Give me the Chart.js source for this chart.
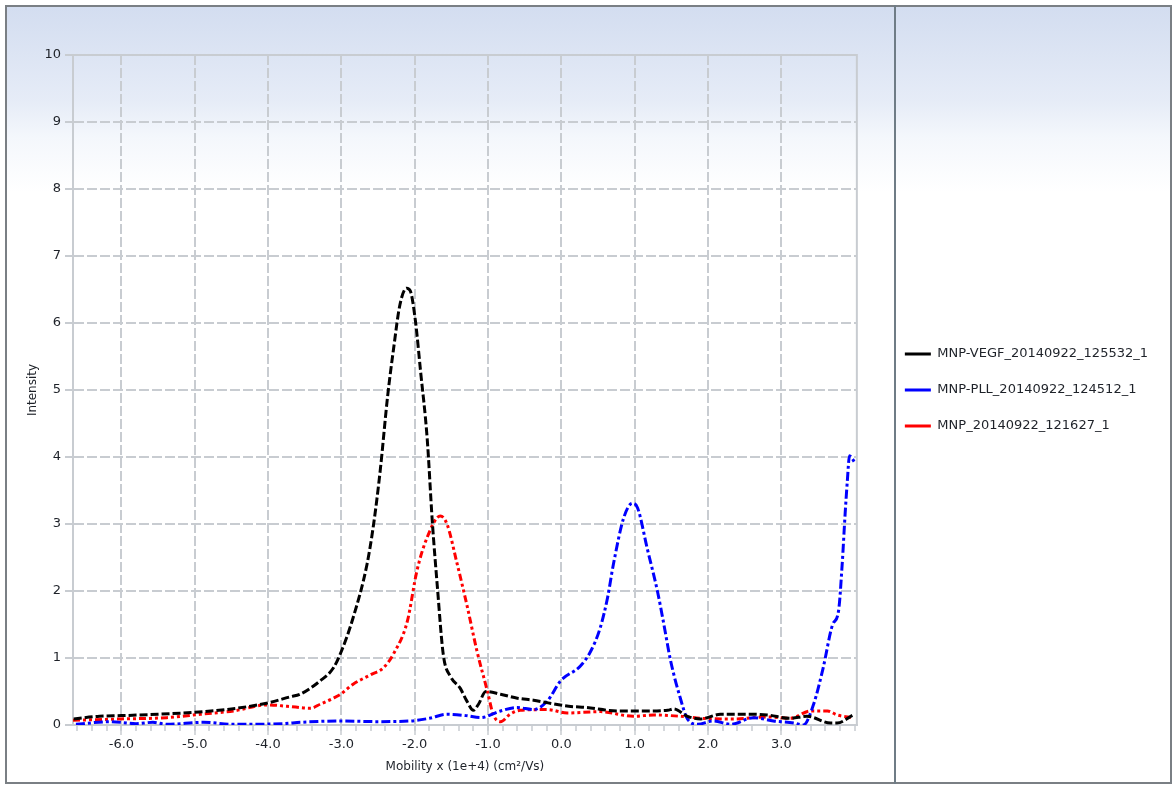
<!DOCTYPE html>
<html><head><meta charset="utf-8">
<script src="https://cdn.jsdelivr.net/npm/chart.js@4.4.1/dist/chart.umd.min.js"></script>
<style>
html,body{margin:0;padding:0;width:1173px;height:785px;overflow:hidden;background:#fff;}
#frame{position:absolute;left:5px;top:5px;width:1167px;height:779px;box-sizing:border-box;border:2px solid #7a7f84;
 background:linear-gradient(to bottom,#d3ddf0 0px,#e6ecf7 95px,#f4f7fc 130px,#ffffff 185px,#ffffff 100%);}
#divider{position:absolute;left:894px;top:5px;width:2px;height:779px;background:#6f7c86;}
#c{position:absolute;left:0;top:0;}
</style></head>
<body>
<div id="frame"></div><div id="divider"></div>
<canvas id="c" width="1173" height="785"></canvas>
<script>
const seriesLabels = ['MNP-VEGF_20140922_125532_1','MNP-PLL_20140922_124512_1','MNP_20140922_121627_1'];

const vegfX = [-6.65,-6.3,-6.0,-5.5,-5.0,-4.5,-4.0,-3.7,-3.56,-3.3,-3.11,-3.0,-2.84,-2.65,-2.56,-2.47,-2.37,-2.29,-2.2,-2.11,-2.06,-1.99,-1.92,-1.83,-1.76,-1.69,-1.61,-1.51,-1.38,-1.29,-1.2,-1.13,-1.03,-0.83,-0.6,-0.38,-0.18,0.1,0.35,0.76,1.1,1.45,1.53,1.72,1.9,2.17,2.58,2.81,3.12,3.35,3.67,3.76,3.98];
const vegfY = [0.09,0.13,0.14,0.16,0.19,0.24,0.33,0.42,0.46,0.65,0.85,1.1,1.6,2.4,3.0,3.8,4.9,5.6,6.28,6.52,6.48,6.03,5.28,4.28,3.04,2.05,1.05,0.72,0.55,0.36,0.22,0.31,0.5,0.46,0.4,0.37,0.33,0.28,0.26,0.21,0.21,0.22,0.24,0.13,0.09,0.16,0.16,0.15,0.1,0.13,0.03,0.03,0.15];

const pllX = [-6.62,-6.15,-5.8,-5.57,-5.38,-4.88,-4.47,-3.79,-3.56,-3.01,-2.5,-2.06,-1.8,-1.56,-1.3,-1.1,-0.83,-0.6,-0.38,-0.19,-0.01,0.26,0.4,0.53,0.63,0.71,0.85,0.97,1.04,1.17,1.31,1.39,1.49,1.62,1.72,1.86,2.07,2.31,2.62,2.89,3.17,3.3,3.44,3.57,3.7,3.78,3.83,3.87,3.9,3.93,3.97,4.01];
const pllY = [0.01,0.05,0.02,0.04,0.01,0.04,0.01,0.02,0.04,0.06,0.05,0.06,0.1,0.16,0.14,0.11,0.21,0.26,0.23,0.36,0.66,0.88,1.1,1.45,1.9,2.4,3.09,3.31,3.24,2.64,2.0,1.55,0.96,0.41,0.09,0.01,0.06,0.01,0.11,0.06,0.03,0.0,0.31,0.85,1.5,1.7,2.4,3.15,3.64,4.02,3.97,3.9];

const mnpX = [-6.66,-6.02,-5.38,-4.92,-4.47,-4.01,-3.74,-3.42,-3.29,-3.11,-3.01,-2.84,-2.6,-2.43,-2.29,-2.1,-1.97,-1.83,-1.65,-1.56,-1.42,-1.29,-1.15,-1.01,-0.93,-0.83,-0.7,-0.56,-0.19,0.08,0.53,0.98,1.26,1.62,1.9,2.35,2.81,3.12,3.4,3.63,3.76,3.98];
const mnpY = [0.07,0.09,0.11,0.16,0.21,0.3,0.28,0.25,0.31,0.4,0.46,0.61,0.75,0.85,1.06,1.55,2.3,2.8,3.12,3.0,2.4,1.8,1.1,0.51,0.16,0.05,0.16,0.22,0.23,0.18,0.2,0.13,0.15,0.13,0.1,0.09,0.12,0.1,0.21,0.21,0.15,0.11];

const xTickValues = [-6,-5,-4,-3,-2,-1,0,1,2,3];
const yTickValues = [0,1,2,3,4,5,6,7,8,9,10];
const xMinorStep = 0.2;

const FONT = 'DejaVu Sans';
const TXT = '#1e2229';
const GRID = '#c8ccd1';

const pts = (xs, ys) => xs.map((x, i) => ({x: x, y: ys[i]}));

const frameAndMinor = {
  id: 'frameAndMinor',
  afterDraw(chart) {
    const {ctx, chartArea: a} = chart;
    const xs = chart.scales.x;
    ctx.save();
    ctx.strokeStyle = GRID;
    ctx.lineWidth = 2;
    ctx.setLineDash([]);
    ctx.beginPath();
    ctx.moveTo(a.left, a.top); ctx.lineTo(a.right, a.top); ctx.lineTo(a.right, a.bottom);
    ctx.stroke();
    ctx.lineWidth = 1.5;
    ctx.beginPath();
    const start = Math.ceil(xs.min / xMinorStep) * xMinorStep;
    for (let v = start; v <= xs.max + 1e-9; v += xMinorStep) {
      const px = Math.round(xs.getPixelForValue(v));
      ctx.moveTo(px, a.bottom); ctx.lineTo(px, a.bottom + 6);
    }
    ctx.stroke();
    ctx.restore();
  }
};

new Chart(document.getElementById('c'), {
  type: 'line',
  data: {
    datasets: [
      {label: seriesLabels[0], data: pts(vegfX, vegfY), borderColor: '#000000', backgroundColor: '#000000', borderWidth: 3, borderDash: [8, 3], pointRadius: 0, cubicInterpolationMode: 'monotone', fill: false},
      {label: seriesLabels[1], data: pts(pllX, pllY), borderColor: '#0000ff', backgroundColor: '#0000ff', borderWidth: 3, borderDash: [9, 3, 3, 3], pointRadius: 0, cubicInterpolationMode: 'monotone', fill: false},
      {label: seriesLabels[2], data: pts(mnpX, mnpY), borderColor: '#ff0000', backgroundColor: '#ff0000', borderWidth: 3, borderDash: [7, 3, 3, 3, 3, 3], pointRadius: 0, cubicInterpolationMode: 'monotone', fill: false}
    ]
  },
  options: {
    responsive: false,
    animation: false,
    devicePixelRatio: 1,
    layout: {padding: {left: 22, top: 55, bottom: 7, right: 15}},
    plugins: {
      legend: {
        position: 'right', align: 'center', fullSize: false, maxWidth: 400,
        labels: {usePointStyle: true, pointStyle: 'line', pointStyleWidth: 26, padding: 23, color: TXT, font: {family: FONT, size: 13}}
      },
      tooltip: {enabled: false}
    },
    scales: {
      x: {
        type: 'linear', min: -6.66, max: 4.03,
        afterBuildTicks: s => { s.ticks = xTickValues.map(v => ({value: v})); },
        afterFit: s => { s.height = 53; },
        ticks: {callback: v => Number(v).toFixed(1), color: TXT, font: {family: FONT, size: 13}, padding: 2, maxRotation: 0, autoSkip: false},
        grid: {color: GRID, lineWidth: 2, tickLength: 10, tickColor: GRID, tickWidth: 1.5},
        border: {display: true, color: GRID, width: 2, dash: [10, 3]},
        title: {display: true, text: 'Mobility x (1e+4) (cm²/Vs)', color: TXT, font: {family: FONT, size: 12}, padding: {top: 2, bottom: 4}}
      },
      y: {
        type: 'linear', min: 0, max: 10,
        afterBuildTicks: s => { s.ticks = yTickValues.map(v => ({value: v})); },
        afterFit: s => { s.width = 51; },
        ticks: {color: TXT, font: {family: FONT, size: 13}, padding: 4},
        grid: {color: GRID, lineWidth: 2, tickLength: 8, tickColor: GRID, tickWidth: 2},
        border: {display: true, color: GRID, width: 2, dash: [10, 3]},
        title: {display: true, text: 'Intensity', color: TXT, font: {family: FONT, size: 12}, padding: {top: 4, bottom: 4}}
      },
      y2: {
        type: 'linear', position: 'right', display: true,
        grid: {display: false}, border: {display: false}, ticks: {display: false},
        afterFit: s => { s.width = 25; }
      }
    }
  },
  plugins: [frameAndMinor]
});
</script>
</body></html>
